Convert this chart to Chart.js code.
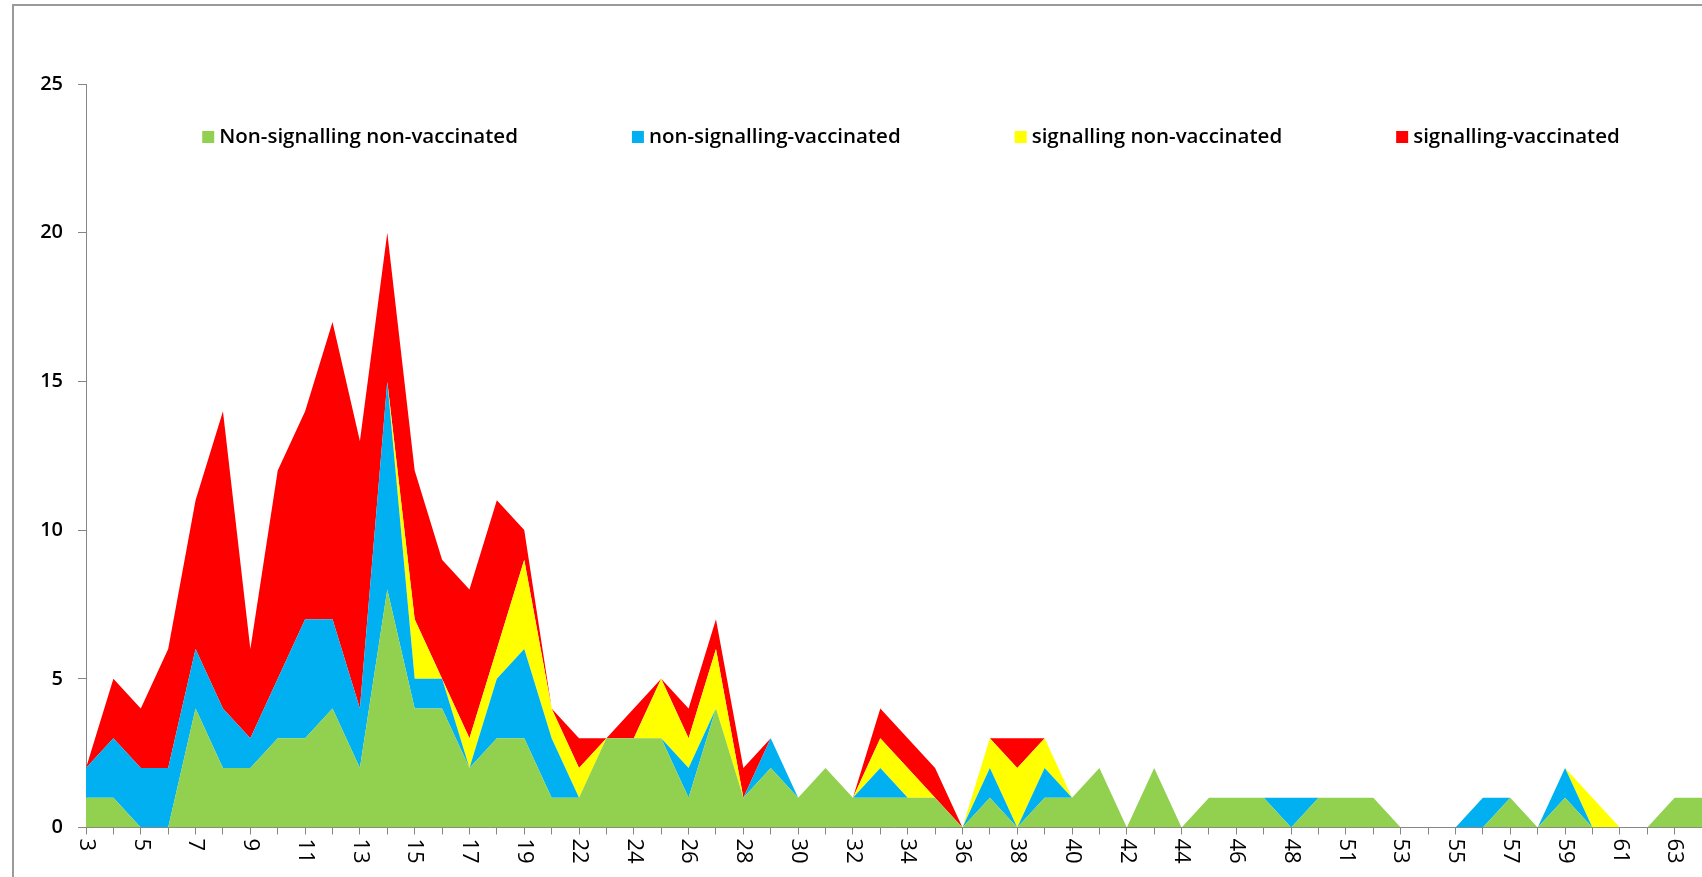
<!DOCTYPE html>
<html>
<head>
<meta charset="utf-8">
<script src="https://cdn.jsdelivr.net/npm/chart.js@4.4.1/dist/chart.umd.min.js"></script>
<style>
  html, body { margin: 0; padding: 0; background: #fff; overflow: hidden; }
  #wrap { position: absolute; left: 0; top: 0; width: 1702px; height: 877px; }
  canvas { display: block; }
</style>
</head>
<body>
<div id="wrap"><canvas id="c" width="1702" height="877"></canvas></div>
<script>
// Age categories (x axis); every second one carries a printed label
const ages = [3,4,5,6,7,8,9,10,11,12,13,14,15,16,17,18,19,20,
  22,23,24,25,26,27,28,29,30,31,32,33,34,35,36,37,38,39,40,41,42,43,44,45,46,47,48,
  50,51,52,53,54,55,56,57,58,59,60,61,62,63,64];

// Counts per group, stacked bottom to top
const nonSignallingNonVaccinated = [
  1,1,0,0,4,2,2,3,3,4,
  2,8,4,4,2,3,3,1,1,3,
  3,3,1,4,1,2,1,2,1,1,
  1,1,0,1,0,1,1,2,0,2,
  0,1,1,1,0,1,1,1,0,0,
  0,0,1,0,1,0,0,0,1,1];
const nonSignallingVaccinated = [
  1,2,2,2,2,2,1,2,4,3,
  2,7,1,1,0,2,3,2,0,0,
  0,0,1,0,0,1,0,0,0,1,
  0,0,0,1,0,1,0,0,0,0,
  0,0,0,0,1,0,0,0,0,0,
  0,1,0,0,1,0,0,0,0,0];
const signallingNonVaccinated = [
  0,0,0,0,0,0,0,0,0,0,
  0,0,2,0,1,1,3,1,1,0,
  0,2,1,2,0,0,0,0,0,1,
  1,0,0,1,2,1,0,0,0,0,
  0,0,0,0,0,0,0,0,0,0,
  0,0,0,0,0,1,0,0,0,0];
const signallingVaccinated = [
  0,2,2,4,5,10,3,7,7,10,
  9,5,5,4,5,5,1,0,1,0,
  1,0,1,1,1,0,0,0,0,1,
  1,1,0,0,1,0,0,0,0,0,
  0,0,0,0,0,0,0,0,0,0,
  0,0,0,0,0,0,0,0,0,0];

const seriesNames = ['Non-signalling non-vaccinated', 'non-signalling-vaccinated',
  'signalling non-vaccinated', 'signalling-vaccinated'];
const seriesColors = ['#92D050', '#00B0F0', '#FFFF00', '#FF0000'];
const yMax = 25;
const yStep = 5;

const AXIS_GREY = '#868686';

// White page with the outer chart frame (top and left edges)
const framePlugin = {
  id: 'frame',
  beforeDraw(chart) {
    const ctx = chart.ctx;
    ctx.save();
    ctx.fillStyle = '#fff';
    ctx.fillRect(0, 0, chart.width, chart.height);
    ctx.strokeStyle = '#9a9a9a';
    ctx.lineWidth = 2;
    ctx.beginPath();
    ctx.moveTo(13, chart.height);
    ctx.lineTo(13, 5);
    ctx.lineTo(chart.width + 10, 5);
    ctx.stroke();
    ctx.restore();
  }
};

// Single-row legend placed inside the plot area
const legendRowPlugin = {
  id: 'legendRow',
  afterDraw(chart, args, o) {
    const ctx = chart.ctx;
    ctx.save();
    ctx.font = o.font;
    ctx.textBaseline = 'middle';
    ctx.textAlign = 'left';
    const items = chart.data.datasets.map(ds => ({
      text: ds.label, color: ds.backgroundColor, w: ctx.measureText(ds.label).width
    }));
    const total = items.reduce((s, it) => s + o.box + o.boxGap + it.w, 0) + o.itemGap * (items.length - 1);
    let x = o.centerX - total / 2;
    items.forEach(it => {
      ctx.fillStyle = it.color;
      ctx.fillRect(x, o.centerY - o.box / 2, o.box, o.box);
      x += o.box + o.boxGap;
      ctx.fillStyle = o.color;
      ctx.fillText(it.text, x, o.centerY);
      x += it.w + o.itemGap;
    });
    ctx.restore();
  }
};

// Category labels turned 90° clockwise, every second category
const xLabelsPlugin = {
  id: 'xLabels',
  afterDraw(chart, args, o) {
    const xs = chart.scales.x;
    const ctx = chart.ctx;
    ctx.save();
    ctx.font = o.font;
    ctx.fillStyle = o.color;
    ctx.textAlign = 'left';
    ctx.textBaseline = 'middle';
    chart.data.labels.forEach((lab, i) => {
      if (i % 2) return;
      const x = xs.getPixelForValue(i);
      ctx.save();
      ctx.translate(x, xs.top + o.offset);
      ctx.rotate(Math.PI / 2);
      ctx.fillText(String(lab), 0, 0);
      ctx.restore();
    });
    ctx.restore();
  }
};

const groups = [nonSignallingNonVaccinated, nonSignallingVaccinated, signallingNonVaccinated, signallingVaccinated];

new Chart(document.getElementById('c'), {
  type: 'line',
  data: {
    labels: ages,
    datasets: groups.map((vals, i) => ({
      label: seriesNames[i],
      data: vals,
      backgroundColor: seriesColors[i],
      borderColor: 'transparent',
      borderWidth: 0,
      pointRadius: 0,
      tension: 0,
      fill: i === 0 ? 'origin' : '-1'
    }))
  },
  options: {
    responsive: false,
    animation: false,
    devicePixelRatio: 1,
    layout: { padding: { left: 0, top: 84, right: 0, bottom: 0 } },
    plugins: {
      legend: { display: false },
      tooltip: { enabled: false },
      legendRow: { font: '600 20.5px "Open Sans"', color: '#000', box: 12, boxGap: 5, itemGap: 114, centerX: 911, centerY: 137 },
      xLabels: { font: '22px "Open Sans"', color: '#000', offset: 11 }
    },
    scales: {
      x: {
        type: 'category',
        offset: false,
        ticks: { display: false, autoSkip: false },
        grid: { drawOnChartArea: false, drawTicks: true, tickLength: 7, color: AXIS_GREY },
        border: { display: true, color: AXIS_GREY, width: 1 },
        afterFit(s) { s.height = 877 - 827.5; }
      },
      y: {
        stacked: true,
        min: 0,
        max: yMax,
        ticks: { stepSize: yStep, padding: 15, color: '#000', font: { family: 'Open Sans', size: 20, weight: '600' } },
        grid: { drawOnChartArea: false, drawTicks: true, tickLength: 8, color: AXIS_GREY },
        border: { display: true, color: AXIS_GREY, width: 1 },
        afterFit(s) { s.width = 86; }
      }
    }
  },
  plugins: [framePlugin, legendRowPlugin, xLabelsPlugin]
});
</script>
</body>
</html>
